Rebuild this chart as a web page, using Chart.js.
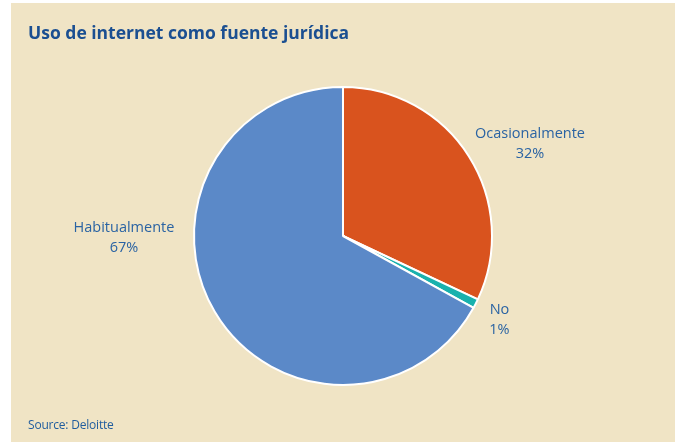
<!DOCTYPE html>
<html><head><meta charset="utf-8">
<script src="https://cdn.jsdelivr.net/npm/chart.js@4"></script>
<style>
html,body{margin:0;padding:0;background:#fff;width:683px;height:443px;overflow:hidden}
#box{position:absolute;left:11px;top:3px;width:664px;height:439px;background:#f0e4c5}
#title{position:absolute;left:17px;top:17px;font:bold 17.5px "Open Sans",sans-serif;color:#1b4f91;white-space:nowrap}
#src{position:absolute;left:17px;top:413px;font:12px "Open Sans",sans-serif;color:#1f5c9e;letter-spacing:-0.2px;white-space:nowrap}
canvas{position:absolute;left:0;top:0}
</style></head><body>
<div id="box">
<canvas id="c" width="664" height="439"></canvas>
<div id="title">Uso de internet como fuente jurídica</div>
<div id="src">Source: Deloitte</div>
</div>
<script>
const categories = ["Ocasionalmente", "No", "Habitualmente"];
const values = [32, 1, 67];
const percentLabels = ["32%", "1%", "67%"];
const colors = ["#d9531e", "#19b1ad", "#5b89c8"];
// label anchor offsets relative to pie centre, in units of radius
const labelOffsets = [[1.255, -0.62], [1.05, 0.565], [-1.47, 0.01]];

const labelPlugin = {
  id: 'outLabels',
  afterDatasetsDraw(chart) {
    const ctx = chart.ctx;
    const meta = chart.getDatasetMeta(0);
    ctx.save();
    ctx.fillStyle = '#2a63a3';
    ctx.font = '14.5px "Open Sans", sans-serif';
    ctx.textAlign = 'center';
    ctx.textBaseline = 'middle';
    meta.data.forEach((arc, i) => {
      const r = arc.outerRadius;
      const x = arc.x + labelOffsets[i][0] * r;
      const y = arc.y + labelOffsets[i][1] * r;
      ctx.fillText(categories[i], x, y - 10);
      ctx.fillText(percentLabels[i], x, y + 10);
    });
    ctx.restore();
  }
};

new Chart(document.getElementById('c'), {
  type: 'pie',
  data: {
    labels: categories,
    datasets: [{ data: values, backgroundColor: colors, borderColor: '#ffffff', borderWidth: 2 }]
  },
  options: {
    responsive: false,
    animation: false,
    layout: { padding: { top: 83, bottom: 56, left: 0, right: 0 } },
    plugins: { legend: { display: false }, tooltip: { enabled: false }, title: { display: false } }
  },
  plugins: [labelPlugin]
});
</script>
</body></html>
